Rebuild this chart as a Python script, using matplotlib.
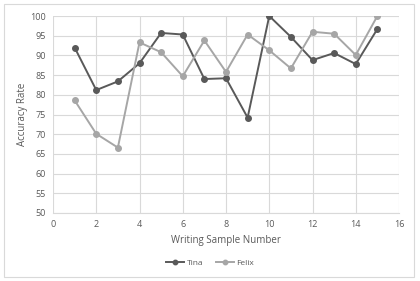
import matplotlib
matplotlib.use("Agg")
import matplotlib.pyplot as plt
from matplotlib.patches import Rectangle

samples = list(range(1, 16))
tina = [92, 81.2, 83.4, 88, 95.7, 95.3, 84, 84.2, 74.2, 100, 94.7, 88.8, 90.6, 87.8, 96.7]
felix = [78.6, 70.1, 66.6, 93.3, 90.8, 84.7, 93.8, 85.8, 95.3, 91.3, 86.7, 96, 95.5, 90.1, 100]

plt.rcParams['font.family'] = ['Open Sans', 'DejaVu Sans']
text_color = "#595959"

fig = plt.figure(figsize=(4.2, 2.81), dpi=100)
fig.patches.append(Rectangle((4 / 420, 4 / 281), 410 / 420, 273 / 281, transform=fig.transFigure,
                             fill=False, edgecolor="#d9d9d9", linewidth=0.8))
ax = fig.add_axes([53 / 420, 1 - 213 / 281, 346 / 420, 197 / 281])

ax.plot(samples, tina, color="#595959", marker="o", markersize=4, linewidth=1.4, label="Tina", zorder=3)
ax.plot(samples, felix, color="#a6a6a6", marker="o", markersize=4, linewidth=1.4, label="Felix", zorder=3)

ax.set_xlim(0, 16)
ax.set_ylim(50, 100)
ax.set_xticks(range(0, 17, 2))
ax.set_yticks(range(50, 101, 5))
ax.grid(True, color="#d9d9d9", linewidth=0.8)
ax.set_axisbelow(True)
for side in ["top", "right", "left"]:
    ax.spines[side].set_visible(False)
ax.spines["bottom"].set_color("#d9d9d9")
ax.tick_params(length=0, labelsize=6.5, colors=text_color, pad=5)

ax.set_xlabel("Writing Sample Number", fontsize=7, color=text_color, labelpad=4)
ax.set_ylabel("Accuracy Rate", fontsize=7, color=text_color, labelpad=2)

fig.legend(loc="center", bbox_to_anchor=(0.5, 1 - 263 / 281), ncol=2, frameon=False,
           fontsize=6, labelcolor=text_color, handlelength=2.2, columnspacing=1.5,
           handletextpad=0.3, markerscale=0.8)

fig.savefig("out.png", dpi=100)
